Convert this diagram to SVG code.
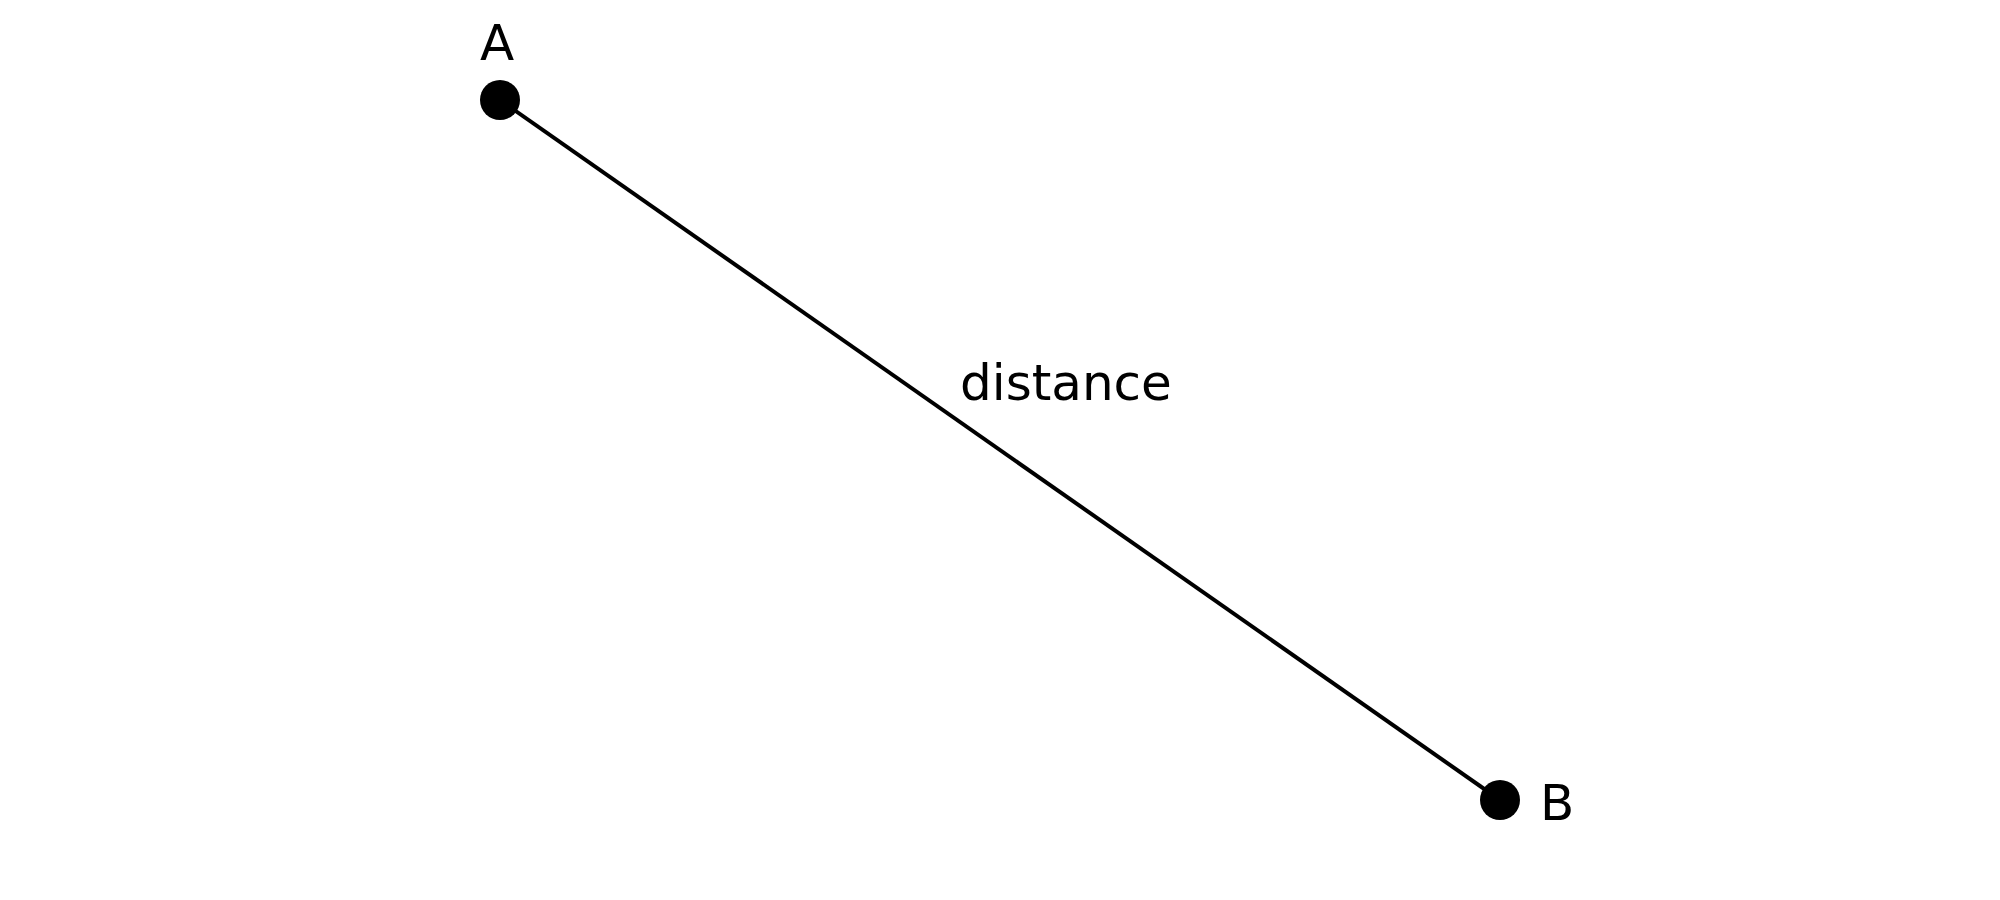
<svg xmlns="http://www.w3.org/2000/svg" width="2000" height="900" viewBox="0 0 2000 900">
<style>
.lbl{font-family:"DejaVu Sans",sans-serif;font-size:50px;fill:#000}
.pt{fill:#000}
.edge{stroke:#000;stroke-width:4;fill:none}
</style>
<rect width="2000" height="900" fill="#fff"/>
<g id="connectors">
<line class="edge" x1="500" y1="100" x2="1500" y2="800"/>
<text class="lbl" x="960" y="400">distance</text>
</g>
<g id="node-A">
<circle class="pt" cx="500" cy="100" r="20"/>
<text class="lbl" x="497" y="60" text-anchor="middle">A</text>
</g>
<g id="node-B">
<circle class="pt" cx="1500" cy="800" r="20"/>
<text class="lbl" x="1540" y="820">B</text>
</g>
</svg>
